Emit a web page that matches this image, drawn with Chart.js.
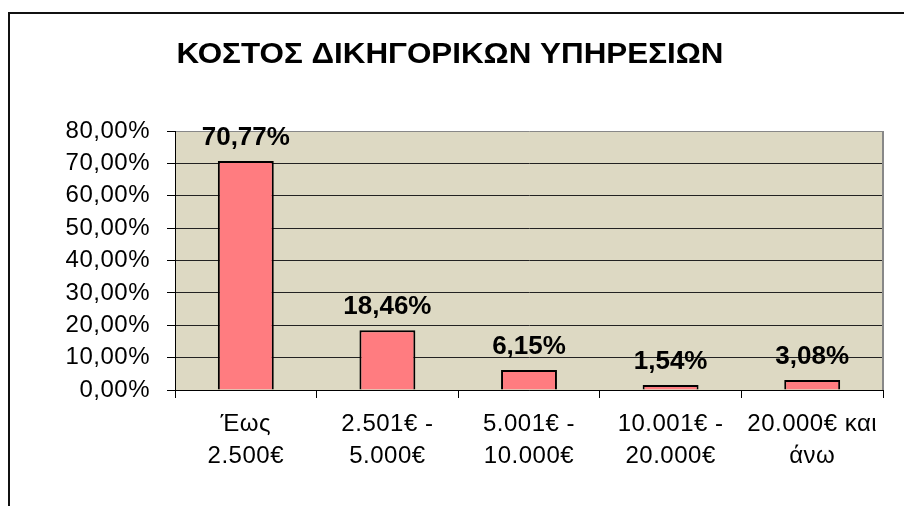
<!DOCTYPE html>
<html>
<head>
<meta charset="utf-8">
<script src="https://cdn.jsdelivr.net/npm/chart.js@4.4.1/dist/chart.umd.min.js"></script>
<style>
html,body{margin:0;padding:0;background:#fff;}
#wrap{position:relative;width:904px;height:506px;}
canvas{display:block;}
</style>
</head>
<body>
<div id="wrap"><canvas id="c" width="904" height="506"></canvas></div>
<script>
const title = 'ΚΟΣΤΟΣ ΔΙΚΗΓΟΡΙΚΩΝ ΥΠΗΡΕΣΙΩΝ';
const categories = [['Έως','2.500€'],['2.501€ -','5.000€'],['5.001€ -','10.000€'],['10.001€ -','20.000€'],['20.000€ και','άνω']];
const values = [70.77, 18.46, 6.15, 1.54, 3.08];
const yTicks = [0,10,20,30,40,50,60,70,80];

const FONT = '"Liberation Sans", Arial, sans-serif';
const fmt = v => v.toFixed(2).replace('.', ',') + '%';

const framePlugin = {
  id: 'frame',
  beforeDraw(chart) {
    const ctx = chart.ctx, a = chart.chartArea;
    ctx.save();
    ctx.fillStyle = '#DDD9C3';
    ctx.fillRect(a.left, a.top, a.right - a.left, a.bottom - a.top);
    ctx.strokeStyle = '#111';
    ctx.lineWidth = 2;
    ctx.beginPath();
    ctx.moveTo(9, 506);
    ctx.lineTo(9, 13);
    ctx.lineTo(904, 13);
    ctx.stroke();
    // title
    ctx.font = 'bold 29px ' + FONT;
    ctx.fillStyle = '#000';
    ctx.textBaseline = 'alphabetic';
    ctx.textAlign = 'center';
    const w = ctx.measureText(title).width;
    const sx = Math.min(1.15, 547 / w);
    ctx.translate(450, 63);
    ctx.scale(sx, 1);
    ctx.fillText(title, 0, 0);
    ctx.restore();
    ctx.letterSpacing = '0.5px';
  },
  afterDatasetsDraw(chart) {
    const ctx = chart.ctx, a = chart.chartArea;
    ctx.save();
    ctx.letterSpacing = '0px';
    ctx.strokeStyle = '#888';
    ctx.lineWidth = 2;
    ctx.beginPath();
    ctx.moveTo(a.right, a.top);
    ctx.lineTo(a.right, a.bottom);
    ctx.stroke();
    ctx.font = 'bold 26px ' + FONT;
    ctx.fillStyle = '#000';
    ctx.textAlign = 'center';
    ctx.textBaseline = 'alphabetic';
    const meta = chart.getDatasetMeta(0);
    meta.data.forEach((bar, i) => {
      ctx.fillText(fmt(values[i]), bar.x, bar.y - 16);
    });
    ctx.restore();
  },
  afterDraw(chart) { chart.ctx.letterSpacing = '0px'; }
};

new Chart(document.getElementById('c'), {
  type: 'bar',
  data: {
    labels: categories,
    datasets: [{
      data: values,
      backgroundColor: '#FF7C80',
      borderColor: '#000',
      borderWidth: 2,
      barPercentage: 0.395,
      categoryPercentage: 1
    }]
  },
  options: {
    responsive: false,
    animation: false,
    devicePixelRatio: 1,
    layout: { padding: { left: 0, top: 131, right: 21, bottom: 0 } },
    plugins: { legend: { display: false }, tooltip: { enabled: false }, title: { display: false } },
    scales: {
      x: {
        grid: { offset: true, drawOnChartArea: false, drawTicks: true, tickLength: 8, tickColor: '#000', color: '#000' },
        border: { display: true, color: '#000', width: 1 },
        ticks: { color: '#000', font: { family: FONT, size: 24, lineHeight: 1.35 }, padding: 10, maxRotation: 0, autoSkip: false },
        afterFit(s) { s.height = 506 - 390; }
      },
      y: {
        min: 0, max: 80,
        afterBuildTicks(s) { s.ticks = yTicks.map(v => ({ value: v })); },
        grid: {
          color: ctx => (ctx.tick && ctx.tick.value === 80) ? '#888' : '#222',
          lineWidth: 1, tickLength: 8, tickColor: '#000'
        },
        border: { display: true, color: '#000', width: 1 },
        ticks: { color: '#000', font: { family: FONT, size: 24 }, padding: 17, callback: v => fmt(v) },
        afterFit(s) { s.width = 175; }
      }
    }
  },
  plugins: [framePlugin]
});
</script>
</body>
</html>
